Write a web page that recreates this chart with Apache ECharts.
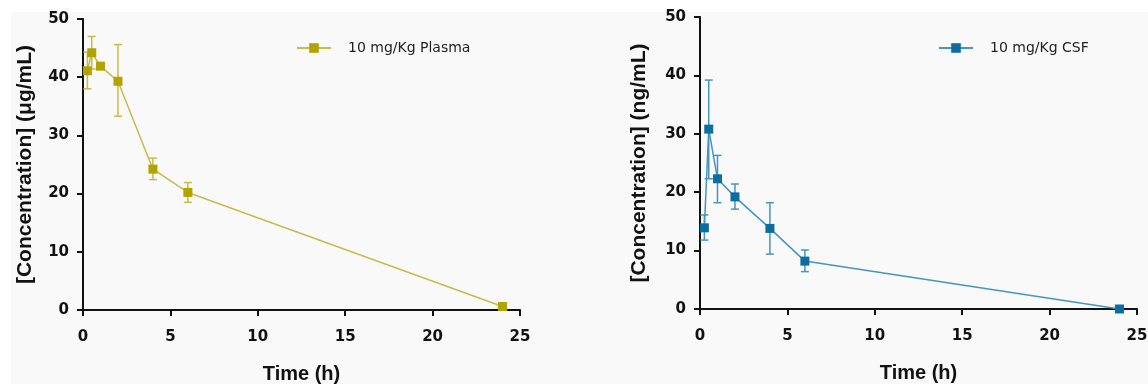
<!DOCTYPE html>
<html>
<head>
<meta charset="utf-8">
<script src="https://cdn.jsdelivr.net/npm/echarts@6/dist/echarts.min.js"></script>
<style>
  html, body { margin: 0; padding: 0; background: #fff; }
  #chart { width: 1148px; height: 384px; }
</style>
</head>
<body>
<div id="chart"></div>
<script>
// sampling times (h)
var times = [0.25, 0.5, 1, 2, 4, 6, 24];

// plasma, ug/mL
var plasmaMean = [41.1, 44.2, 41.9, 39.3, 24.2, 20.2, 0.6];
var plasmaLow  = [38.0, 41.4, 41.4, 33.3, 22.4, 18.5, 0.3];
var plasmaHigh = [44.3, 47.0, 42.4, 45.6, 26.1, 21.9, 0.9];

// CSF, ng/mL
var csfMean = [13.9, 30.8, 22.3, 19.2, 13.8, 8.2, 0.0];
var csfLow  = [11.8, 22.3, 18.2, 17.1, 9.4, 6.4, 0.0];
var csfHigh = [16.1, 39.2, 26.3, 21.4, 18.2, 10.1, 0.0];

var xTicks = [0, 25, 5];
var yTicks = [0, 50, 10];

var plasmaName = '10 mg/Kg Plasma';
var csfName = '10 mg/Kg CSF';

function pairs(xs, ys) {
    return xs.map(function (x, i) { return [x, ys[i]]; });
}
function bars(xs, lo, hi) {
    return xs.map(function (x, i) { return [x, lo[i], hi[i]]; });
}

function errorBars(params, api) {
    var top = api.coord([api.value(0), api.value(2)]);
    var bot = api.coord([api.value(0), api.value(1)]);
    var half = 4;
    var style = { stroke: api.visual('color'), lineWidth: 1.5 };
    return {
        type: 'group',
        children: [
            { type: 'line', shape: { x1: top[0], y1: top[1], x2: bot[0], y2: bot[1] }, style: style },
            { type: 'line', shape: { x1: top[0] - half, y1: top[1], x2: top[0] + half, y2: top[1] }, style: style },
            { type: 'line', shape: { x1: bot[0] - half, y1: bot[1], x2: bot[0] + half, y2: bot[1] }, style: style }
        ]
    };
}

var tickFont = { fontFamily: 'DejaVu Sans', fontWeight: 'bold', fontSize: 15, color: '#111' };
var titleFont = { fontFamily: 'Liberation Sans', fontWeight: 'bold', color: '#111' };

function xAxisFor(idx) {
    return {
        type: 'value',
        gridIndex: idx,
        min: xTicks[0], max: xTicks[1], interval: xTicks[2],
        name: 'Time (h)',
        nameLocation: 'middle',
        nameGap: 54,
        nameTextStyle: Object.assign({ fontSize: 20 }, titleFont),
        axisLine: { lineStyle: { color: '#111', width: 2 } },
        axisTick: { length: 6, lineStyle: { color: '#111', width: 2 } },
        axisLabel: Object.assign({ margin: 20 }, tickFont),
        splitLine: { show: false }
    };
}

function yAxisFor(idx, title, gap) {
    return {
        type: 'value',
        gridIndex: idx,
        min: yTicks[0], max: yTicks[1], interval: yTicks[2],
        name: title,
        nameLocation: 'middle',
        nameGap: gap,
        nameTextStyle: Object.assign({ fontSize: 21 }, titleFont),
        axisLine: { show: true, lineStyle: { color: '#111', width: 2 } },
        axisTick: { show: true, length: 6, lineStyle: { color: '#111', width: 2 } },
        axisLabel: Object.assign({ margin: 14 }, tickFont),
        splitLine: { show: false }
    };
}

var chart = echarts.init(document.getElementById('chart'));

var plasmaMarker = '#b3a300';
var plasmaLine = '#c6bb4c';
var csfMarker = '#0b6e9f';
var csfLine = '#4596bb';

var legendText = { fontFamily: 'DejaVu Sans', fontSize: 14, color: '#222', padding: [0, 0, 0, 12] };

var option = {
    backgroundColor: '#fff',
    animation: false,
    graphic: [{
        type: 'rect', z: -10, silent: true,
        shape: { x: 11, y: 12, width: 1137, height: 372 },
        style: { fill: '#f9f9f9' }
    }],
    legend: [
        {
            data: [plasmaName], left: 291, top: 36,
            itemWidth: 34, itemHeight: 12,
            textStyle: legendText
        },
        {
            data: [csfName], left: 933, top: 36,
            itemWidth: 34, itemHeight: 12,
            textStyle: legendText
        }
    ],
    grid: [
        { left: 83, right: 628, top: 19, bottom: 74, outerBoundsMode: 'none' },
        { left: 700, right: 11, top: 17, bottom: 75, outerBoundsMode: 'none' }
    ],
    xAxis: [xAxisFor(0), xAxisFor(1)],
    yAxis: [yAxisFor(0, '[Concentration] (μg/mL)', 47), yAxisFor(1, '[Concentration] (ng/mL)', 50)],
    series: [
        {
            name: plasmaName,
            type: 'line',
            xAxisIndex: 0, yAxisIndex: 0,
            data: pairs(times, plasmaMean),
            symbol: 'rect',
            symbolSize: 9,
            itemStyle: { color: plasmaMarker },
            lineStyle: { color: plasmaLine, width: 1.5 },
            z: 3
        },
        {
            name: 'plasma error',
            type: 'custom',
            xAxisIndex: 0, yAxisIndex: 0,
            renderItem: errorBars,
            itemStyle: { color: plasmaLine },
            data: bars(times, plasmaLow, plasmaHigh),
            z: 1
        },
        {
            name: csfName,
            type: 'line',
            xAxisIndex: 1, yAxisIndex: 1,
            data: pairs(times, csfMean),
            symbol: 'rect',
            symbolSize: 9,
            itemStyle: { color: csfMarker },
            lineStyle: { color: csfLine, width: 1.5 },
            z: 3
        },
        {
            name: 'csf error',
            type: 'custom',
            xAxisIndex: 1, yAxisIndex: 1,
            renderItem: errorBars,
            itemStyle: { color: csfLine },
            data: bars(times, csfLow, csfHigh),
            z: 1
        }
    ]
};

chart.setOption(option);
</script>
</body>
</html>
